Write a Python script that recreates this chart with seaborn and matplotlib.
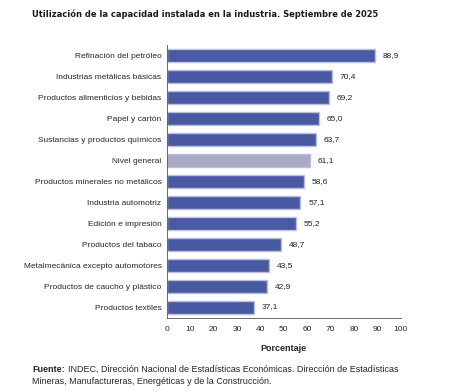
import pandas as pd
import seaborn as sns
import matplotlib.pyplot as plt
import numpy as np

sectores = ['Refinación del petróleo', 'Industrias metálicas básicas',
            'Productos alimenticios y bebidas', 'Papel y cartón',
            'Sustancias y productos químicos', 'Nivel general',
            'Productos minerales no metálicos', 'Industria automotriz',
            'Edición e impresión', 'Productos del tabaco',
            'Metalmecánica excepto automotores', 'Productos de caucho y plástico',
            'Productos textiles']
valores = [88.9, 70.4, 69.2, 65.0, 63.7, 61.1, 58.6, 57.1, 55.2, 48.7, 43.5, 42.9, 37.1]

df = pd.DataFrame({'sector': sectores, 'valor': valores})
colores = ['#a9a9c6' if s == 'Nivel general' else '#4a5aa2' for s in sectores]

sns.set_style('white')
plt.rcParams['font.family'] = ['Liberation Sans', 'DejaVu Sans']

fig = plt.figure(figsize=(4.65, 3.92), dpi=100)
ax = fig.add_axes([0.359, 0.19, 0.503, 0.695])

sns.barplot(data=df, y='sector', x='valor', hue='sector', palette=colores,
            legend=False, width=0.62, edgecolor='#b9bde0', linewidth=1.0,
            saturation=1, ax=ax)

for i, v in enumerate(valores):
    ax.text(v + 3.3, i, f'{v:.1f}'.replace('.', ','), va='center', ha='left',
            fontsize=6, color='#222222')

ax.set_xlim(0, 100)
ax.set_ylim(len(sectores) - 0.5, -0.5)
ax.set_xticks(range(0, 101, 10))
ax.tick_params(axis='x', labelsize=6, length=3, width=0.6, color='#555555', pad=3)
ax.tick_params(axis='y', labelsize=6, length=0, pad=4)
ax.set_yticks(np.arange(-0.5, len(sectores), 1), minor=True)
ax.tick_params(axis='y', which='minor', length=3, width=0.6, color='#555555')
ax.set_ylabel('')
ax.set_xlabel('Porcentaje', fontsize=6.5, fontweight='bold', labelpad=8)

for s in ['top', 'right']:
    ax.spines[s].set_visible(False)
for s in ['left', 'bottom']:
    ax.spines[s].set_color('#555555')
    ax.spines[s].set_linewidth(0.6)

titulo = fig.text(32 / 465, 1 - 14 / 392,
                  'Utilización de la capacidad instalada en la industria. Septiembre de 2025',
                  fontsize=9, fontweight='bold', va='center', ha='left', fontstretch='condensed',
                  family=['DejaVu Sans'], color='#1a1a1a')
# ajustar el título al ancho del original (~345 px)
fig.canvas.draw()
ancho = titulo.get_window_extent().width
titulo.set_fontsize(9 * 345 / ancho)

# fuente, con "Fuente:" en negrita
t = fig.text(32 / 465, 1 - 369 / 392, 'Fuente:', fontsize=6.5, fontweight='bold', va='center', ha='left')
fig.canvas.draw()
bb = t.get_window_extent().transformed(fig.transFigure.inverted())
fig.text(bb.x1 + 3 / 465, 1 - 369 / 392,
         'INDEC, Dirección Nacional de Estadísticas Económicas. Dirección de Estadísticas',
         fontsize=6.5, va='center', ha='left')
fig.text(32 / 465, 1 - 382 / 392, 'Mineras, Manufactureras, Energéticas y de la Construcción.',
         fontsize=6.5, va='center', ha='left')

fig.savefig('out.png', dpi=100)
